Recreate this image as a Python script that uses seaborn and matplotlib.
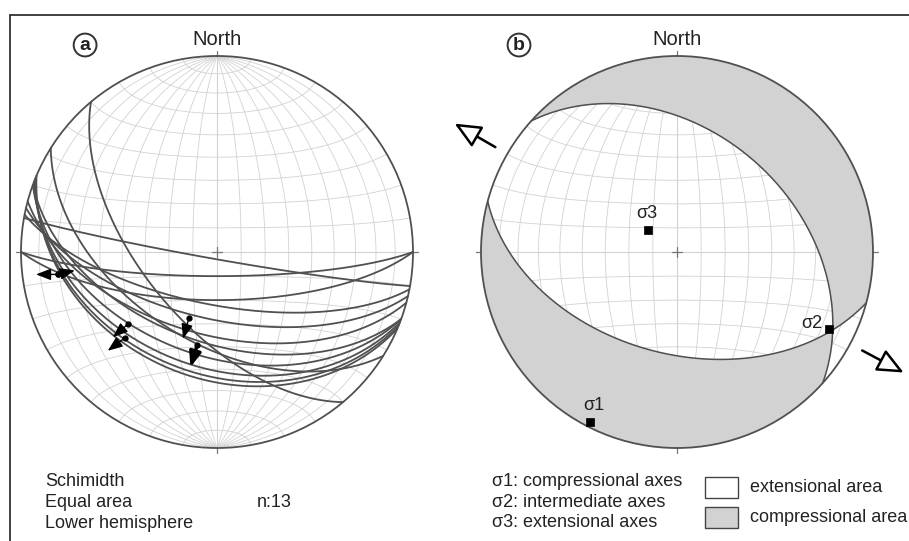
# stereonet figure: (a) fault planes with slickenlines, (b) paleostress result
import numpy as np
import pandas as pd
import seaborn as sns
import matplotlib
matplotlib.use("Agg")
import matplotlib.pyplot as plt
from matplotlib.lines import Line2D
from matplotlib.patches import Rectangle, Circle

# ---- data ----
# panel a: fault planes (strike, dip, right-hand rule)
strikes_a = [140, 122, 100, 90, 90, 101, 103, 105, 110, 110, 111, 112, 113]
dips_a = [60, 52, 87, 80, 70, 68, 62, 55, 52, 46, 41, 38, 36]

# panel a: slickenline arrows (lineation trend/plunge, arrow screen angle, length)
lin_trend = [231, 227, 203, 192, 262, 262]
lin_plunge = [41, 36, 60, 50, 19, 19]
arrow_angle = [221, 217, 254, 253, 180, 13]
arrow_len = [0.10, 0.11, 0.11, 0.12, 0.11, 0.09]
arrow_width = [1.0, 1.0, 1.0, 2.4, 1.0, 1.0]

# panel b: nodal planes (strike, dip) and principal stress axes
plane_strikes_b = [312, 105]
plane_dips_b = [39, 47]
sigma_names = ["σ1", "σ2", "σ3"]
sigma_trend = [207, 117, 308]
sigma_plunge = [3, 14, 75]
extension_trend = [300, 118]

legend_axes = ["σ1: compressional axes", "σ2: intermediate axes", "σ3: extensional axes"]
legend_areas = ["extensional area", "compressional area"]

grid_c = "#d2d2d2"
line_c = "#505050"
fill_c = "#d2d2d2"
text_c = "#222222"


def project(trend, plunge):
    t = np.radians(trend)
    r = np.sqrt(2) * np.sin(np.radians(90 - np.asarray(plunge)) / 2)
    return r * np.sin(t), r * np.cos(t)


def vec_to_tp(v):
    e, n, d = v
    return np.degrees(np.arctan2(e, n)), np.degrees(np.arcsin(np.clip(d, -1, 1)))


def plane_line(strike, dip, n=240):
    s = np.radians(strike)
    d = np.radians(dip)
    sv = np.array([np.sin(s), np.cos(s), 0.0])
    dv = np.array([np.cos(d) * np.sin(s + np.pi / 2), np.cos(d) * np.cos(s + np.pi / 2), np.sin(d)])
    a = np.linspace(0, np.pi, n)
    v = np.outer(np.cos(a), sv) + np.outer(np.sin(a), dv)
    t, p = vec_to_tp(v.T)
    return project(t, np.clip(p, 0, 90))


def pole(strike, dip):
    t = np.radians(strike - 90)
    p = np.radians(90 - dip)
    return np.array([np.cos(p) * np.sin(t), np.cos(p) * np.cos(t), np.sin(p)])


def draw_net(ax):
    # meridians through N and S
    for d in range(10, 90, 10):
        for s in (0, 180):
            x, y = plane_line(s, d)
            ax.plot(x, y, color=grid_c, lw=0.6, zorder=1)
    ax.plot([0, 0], [-1, 1], color=grid_c, lw=0.8, zorder=1)
    # small circles about the N-S axis
    phi = np.linspace(0, np.pi, 200)
    for c in range(10, 180, 10):
        cr = np.radians(c)
        v = np.array([np.sin(cr) * np.cos(phi), np.full_like(phi, np.cos(cr)), np.sin(cr) * np.sin(phi)])
        t, p = vec_to_tp(v)
        x, y = project(t, np.clip(p, 0, 90))
        ax.plot(x, y, color=grid_c, lw=0.8 if c == 90 else 0.6, zorder=1)
    # primitive, centre cross and ticks
    prim = Circle((0, 0), 1, fc="none", ec=line_c, lw=1.3, zorder=6)
    ax.add_patch(prim)
    ax.plot([-0.025, 0.025], [0, 0], color="#777777", lw=0.9, zorder=6)
    ax.plot([0, 0], [-0.025, 0.025], color="#777777", lw=0.9, zorder=6)
    for ang in (0, 90, 180, 270):
        a = np.radians(ang)
        ax.plot([np.sin(a), 1.025 * np.sin(a)], [np.cos(a), 1.025 * np.cos(a)], color="#777777", lw=0.9)
    ax.text(0, 1.085, "North", ha="center", va="center", fontsize=14.5, color=text_c)


sns.set_style("white")
plt.rcParams["font.family"] = ["Liberation Sans", "DejaVu Sans"]

W, H = 909, 541
fig = plt.figure(figsize=(W / 100, H / 100), dpi=100)
fig.patch.set_facecolor("white")

# each panel: 1 data unit = 196 px, circle centres at px (217, 252) and (677, 252)
R = 196.0
ax_a = fig.add_axes([0, 0, 450 / W, 1])
ax_a.set_xlim((0 - 217) / R, (450 - 217) / R)
ax_a.set_ylim((252 - H) / R, 252 / R)
ax_b = fig.add_axes([450 / W, 0, 459 / W, 1])
ax_b.set_xlim((450 - 677) / R, (909 - 677) / R)
ax_b.set_ylim((252 - H) / R, 252 / R)
for ax in (ax_a, ax_b):
    ax.set_aspect("auto")
    ax.axis("off")
    draw_net(ax)

# ---- panel a: great circles ----
rows = []
for i, (s, d) in enumerate(zip(strikes_a, dips_a)):
    x, y = plane_line(s, d)
    rows.append(pd.DataFrame({"x": x, "y": y, "plane": i}))
gc = pd.concat(rows, ignore_index=True)
sns.lineplot(data=gc, x="x", y="y", units="plane", estimator=None, sort=False,
             color=line_c, lw=1.3, legend=False, ax=ax_a, zorder=3)
ax_a.set_xlabel("")
ax_a.set_ylabel("")

# slickenline arrows
lx, ly = project(np.array(lin_trend), np.array(lin_plunge))
for x0, y0, ang, ln, w in zip(lx, ly, arrow_angle, arrow_len, arrow_width):
    a = np.radians(ang)
    x1, y1 = x0 + ln * np.cos(a), y0 + ln * np.sin(a)
    ax_a.annotate("", xy=(x1, y1), xytext=(x0, y0), zorder=5,
                  arrowprops=dict(arrowstyle="-|>,head_length=0.9,head_width=0.35", color="black",
                                  lw=w, shrinkA=0, shrinkB=0, mutation_scale=10))
    ax_a.plot(x0, y0, "o", color="black", ms=3.5, zorder=5)

ax_a.text(-0.673, 1.056, "a", ha="center", va="center", fontsize=14, fontweight="bold", color=text_c,
          bbox=dict(boxstyle="circle,pad=0.15", fc="white", ec="#333333", lw=1.4))
for k, txt in enumerate(["Schimidth", "Equal area", "Lower hemisphere"]):
    ax_a.text(-0.878, -1.173 - 0.105 * k, txt, ha="left", va="center", fontsize=13, color=text_c)
ax_a.text(0.204, -1.278, f"n:{len(strikes_a)}", ha="left", va="center", fontsize=13, color=text_c)

# ---- panel b: compressional / extensional quadrants ----
nA = pole(plane_strikes_b[0], plane_dips_b[0])
nB = pole(plane_strikes_b[1], plane_dips_b[1])
g = np.linspace(-1.03, 1.03, 600)
X, Y = np.meshgrid(g, g)
Rr = np.clip(np.hypot(X, Y), 0, 1)
Pp = np.pi / 2 - 2 * np.arcsin(Rr / np.sqrt(2))
Tt = np.arctan2(X, Y)
V = np.stack([np.cos(Pp) * np.sin(Tt), np.cos(Pp) * np.cos(Tt), np.sin(Pp)])
S = np.tensordot(nA, V, axes=1) * np.tensordot(nB, V, axes=1)
clip_c = Circle((0, 0), 1, fc="none", ec="none")
ax_b.add_patch(clip_c)
cs = ax_b.contourf(X, Y, S, levels=[S.min() - 1, 0], colors=[fill_c], zorder=2)
cs.set_clip_path(clip_c)
for s, d in zip(plane_strikes_b, plane_dips_b):
    x, y = plane_line(s, d)
    sns.lineplot(x=x, y=y, sort=False, color=line_c, lw=1.1, ax=ax_b, zorder=4)
ax_b.set_xlabel("")
ax_b.set_ylabel("")

sx, sy = project(np.array(sigma_trend), np.array(sigma_plunge))
sns.scatterplot(x=sx, y=sy, marker="s", color="black", s=40, edgecolor="black", ax=ax_b, zorder=7)
label_off = [(0.02, 0.085), (-0.09, 0.03), (-0.01, 0.085)]
for name, x0, y0, (dx, dy) in zip(sigma_names, sx, sy, label_off):
    ax_b.text(x0 + dx, y0 + dy, name, ha="center", va="center", fontsize=13, color=text_c, zorder=8)

# extension direction arrows outside the net
for t in extension_trend:
    a = np.radians(t)
    ax_b.annotate("", xy=(1.31 * np.sin(a), 1.31 * np.cos(a)), xytext=(1.07 * np.sin(a), 1.07 * np.cos(a)),
                  arrowprops=dict(arrowstyle="-|>,head_length=0.9,head_width=0.4", fc="white", ec="black",
                                  lw=1.8, shrinkA=0, shrinkB=0, mutation_scale=18))

ax_b.text(-0.806, 1.056, "b", ha="center", va="center", fontsize=14, fontweight="bold", color=text_c,
          bbox=dict(boxstyle="circle,pad=0.15", fc="white", ec="#333333", lw=1.4))
for k, txt in enumerate(legend_axes):
    ax_b.text(-0.944, -1.173 - 0.103 * k, txt, ha="left", va="center", fontsize=13, color=text_c)
for k, (txt, fc) in enumerate(zip(legend_areas, ["white", fill_c])):
    y0 = -1.255 - 0.153 * k
    ax_b.add_patch(Rectangle((0.143, y0), 0.168, 0.107, fc=fc, ec="#444444", lw=1))
    ax_b.text(0.372, y0 + 0.055, txt, ha="left", va="center", fontsize=13, color=text_c)

# open frame: top and left edges
fig.add_artist(Line2D([10 / W, 1], [1 - 15 / H, 1 - 15 / H], transform=fig.transFigure, color="#333333", lw=1.3))
fig.add_artist(Line2D([10 / W, 10 / W], [0, 1 - 15 / H], transform=fig.transFigure, color="#333333", lw=1.3))

fig.savefig("out.png", dpi=100)
